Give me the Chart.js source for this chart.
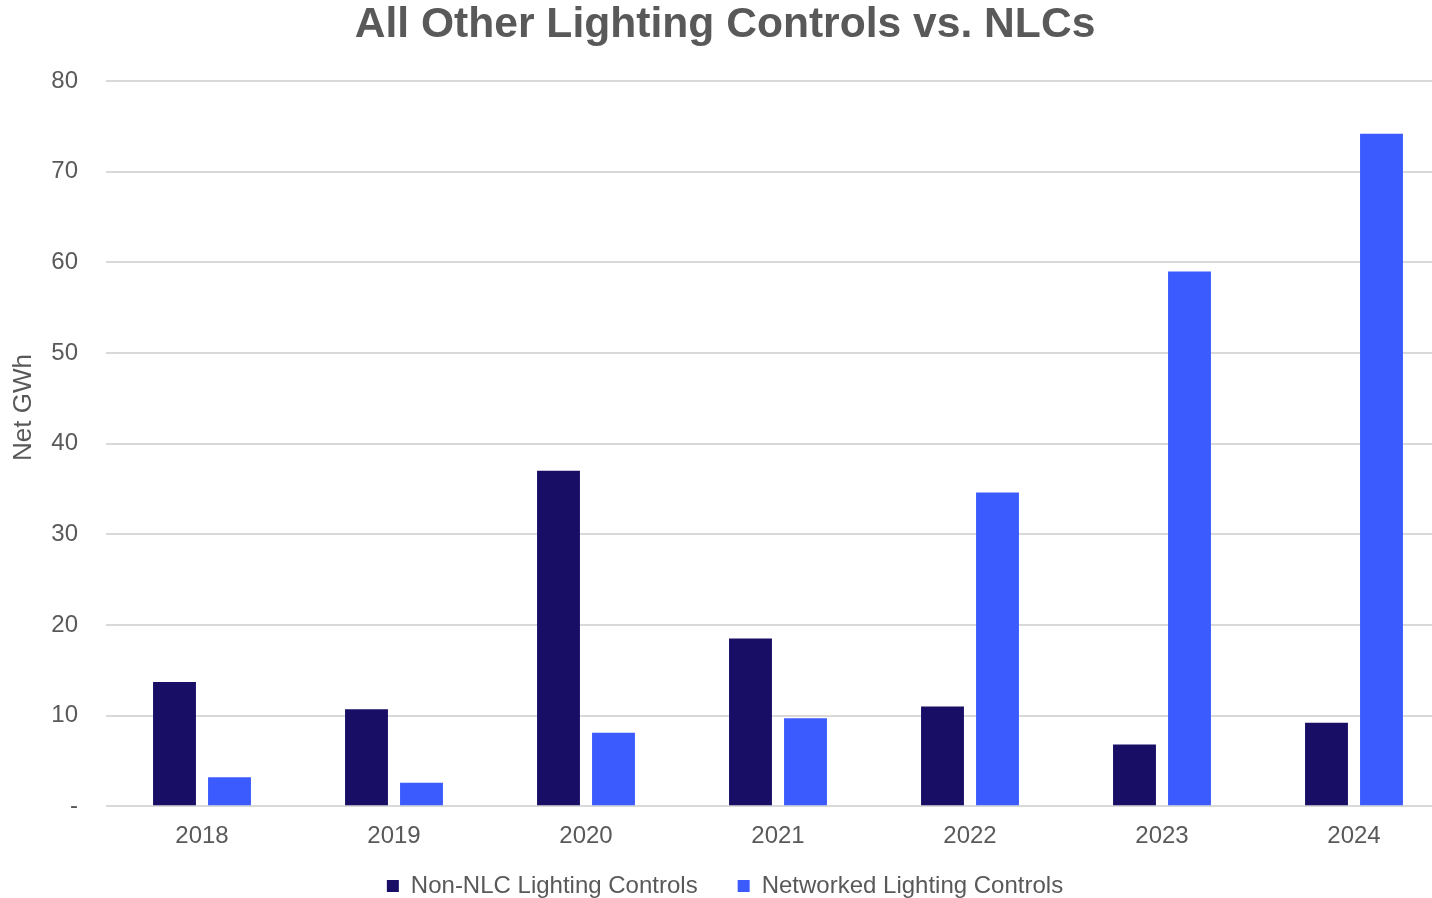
<!DOCTYPE html>
<html>
<head>
<meta charset="utf-8">
<script src="https://cdn.jsdelivr.net/npm/chart.js@4"></script>
<style>
  html, body { margin: 0; padding: 0; background: #fff; overflow: hidden; }
  #wrap { width: 1450px; height: 933px; }
</style>
</head>
<body>
<div id="wrap"><canvas id="chart"></canvas></div>
<script>
const years = ['2018', '2019', '2020', '2021', '2022', '2023', '2024'];
const nonNlc = [13.7, 10.7, 37.0, 18.5, 11.0, 6.8, 9.2];
const networked = [3.2, 2.6, 8.1, 9.7, 34.6, 59.0, 74.2];
const seriesNames = ['Non-NLC Lighting Controls', 'Networked Lighting Controls'];
const yTicks = [0, 10, 20, 30, 40, 50, 60, 70, 80];

const grey = '#595959';
const font = 'Liberation Sans, Arial, sans-serif';

// pull the legend a bit closer to the axis labels, like the original
const legendLift = {
  id: 'legendLift',
  afterLayout(chart) {
    chart.legend.top -= 25;
    chart.legend.bottom -= 25;
  }
};

var ctx = document.getElementById('chart').getContext('2d');
var chart = new Chart(ctx, {
  type: 'bar',
  data: {
    labels: years,
    datasets: [{
      label: seriesNames[0],
      data: nonNlc,
      backgroundColor: '#180e66',
      barPercentage: 0.78,
      categoryPercentage: 0.573,
    }, {
      label: seriesNames[1],
      data: networked,
      backgroundColor: '#3b5bff',
      barPercentage: 0.78,
      categoryPercentage: 0.573,
    }]
  },
  plugins: [legendLift],
  options: {
    responsive: true,
    maintainAspectRatio: false,
    animation: false,
    layout: { padding: 0 },
    plugins: {
      title: {
        display: true,
        text: 'All Other Lighting Controls vs. NLCs',
        color: grey,
        font: { family: font, size: 42.6, weight: 'bold' },
        padding: { top: 0, bottom: 30 }
      },
      legend: {
        position: 'bottom',
        labels: {
          color: grey,
          font: { family: font, size: 24 },
          boxWidth: 12,
          boxHeight: 12,
          padding: 40
        }
      },
      tooltip: { enabled: false }
    },
    scales: {
      x: {
        grid: { display: false },
        border: { display: false },
        ticks: { color: grey, font: { family: font, size: 24 }, padding: 8 }
      },
      y: {
        min: 0,
        max: 80,
        afterFit: function(scale) { scale.width = 106; },
        afterBuildTicks: function(scale) { scale.ticks = yTicks.map(v => ({ value: v })); },
        grid: { color: '#d9d9d9', lineWidth: 2, drawTicks: false },
        border: { display: false },
        ticks: {
          color: grey,
          font: { family: font, size: 24 },
          padding: 28,
          callback: function(v) { return v === 0 ? '-' : v; }
        },
        title: {
          display: true,
          text: '          Net GWh',
          color: grey,
          font: { family: font, size: 26 },
          padding: { top: 8, bottom: 0 }
        }
      }
    }
  }
});
</script>
</body>
</html>
